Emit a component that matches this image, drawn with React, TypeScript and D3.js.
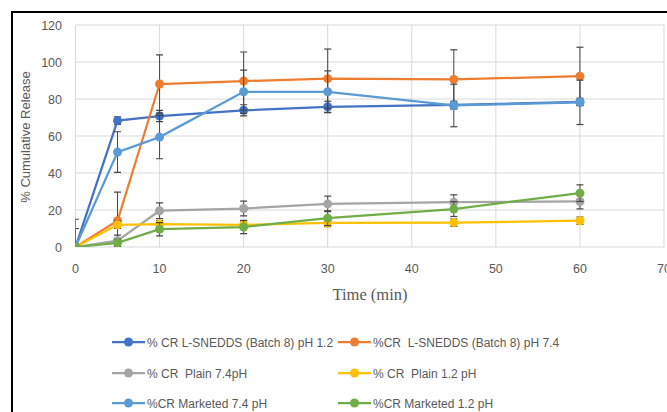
import * as d3 from 'd3';
import { useEffect, useRef } from 'react';

const times = [0, 5, 10, 20, 30, 45, 60];

const darkBlue = [0, 68.3, 70.8, 73.9, 75.8, 76.8, 78.4];
const darkBlueSd = [0, 2, 3, 3, 3, 2, 2];
const orange = [0, 14.2, 88.1, 89.7, 91.0, 90.6, 92.3];
const orangeSd = [15, 15.5, 15.7, 15.7, 16, 16, 15.7];
const gray = [0, 3.4, 19.6, 20.8, 23.3, 24.2, 24.6];
const graySd = [0, 3, 4.2, 4, 4.2, 4, 4];
const yellow = [0, 12, 12.4, 12, 13, 13.2, 14.2];
const yellowSd = [0, 2, 2, 2, 2, 2, 2];
const lightBlue = [0, 51.3, 59.4, 83.9, 83.9, 76.5, 78.2];
const lightBlueSd = [10, 11, 11.7, 11.7, 11.3, 11.5, 12];
const green = [0, 2.2, 9.6, 10.8, 15.6, 20.5, 29.1];
const greenSd = [0, 2, 3.6, 3.6, 4, 4, 4.5];

const seriesNames = [
  '% CR L-SNEDDS (Batch 8) pH 1.2',
  '%CR  L-SNEDDS (Batch 8) pH 7.4',
  '% CR  Plain 7.4pH',
  '% CR  Plain 1.2 pH',
  '%CR Marketed 7.4 pH',
  '%CR Marketed 1.2 pH',
];
const colors = ['#4472C4', '#ED7D31', '#A5A5A5', '#FFC000', '#5B9BD5', '#70AD47'];
const xTicks = [0, 10, 20, 30, 40, 50, 60, 70];
const yTicks = [0, 20, 40, 60, 80, 100, 120];

const SANS = 'Liberation Sans, Arial, sans-serif';

const App = () => {
  const ref = useRef<SVGSVGElement>(null);

  useEffect(() => {
    const svg = d3.select(ref.current);
    svg.selectAll('*').remove();

    const series = [
      { vals: darkBlue, sd: darkBlueSd },
      { vals: orange, sd: orangeSd },
      { vals: gray, sd: graySd },
      { vals: yellow, sd: yellowSd },
      { vals: lightBlue, sd: lightBlueSd },
      { vals: green, sd: greenSd },
    ];

    const x = d3.scaleLinear().domain([0, 70]).range([75.5, 664]);
    const y = d3.scaleLinear().domain([0, 120]).range([247, 25]);

    svg.append('rect').attr('width', 667).attr('height', 412).attr('fill', '#fff');

    svg.append('clipPath').attr('id', 'plotclip')
      .append('rect')
      .attr('x', x(0)).attr('y', 0)
      .attr('width', x(70) - x(0)).attr('height', y(0));

    // frame
    svg.append('path')
      .attr('d', 'M12,412 V12 H667')
      .attr('fill', 'none')
      .attr('stroke', '#000')
      .attr('stroke-width', 2);

    // gridlines
    svg.append('g').selectAll('line').data(yTicks).enter().append('line')
      .attr('x1', x(0)).attr('x2', x(70))
      .attr('y1', d => y(d)).attr('y2', d => y(d))
      .attr('stroke', '#d9d9d9').attr('stroke-width', 1);
    svg.append('g').selectAll('line').data(xTicks).enter().append('line')
      .attr('x1', d => x(d)).attr('x2', d => x(d))
      .attr('y1', y(0)).attr('y2', y(120))
      .attr('stroke', '#d9d9d9').attr('stroke-width', 1);

    // tick labels
    svg.append('g').selectAll('text').data(yTicks).enter().append('text')
      .attr('x', 62).attr('y', d => y(d) + 4.5)
      .attr('text-anchor', 'end')
      .attr('font-family', SANS)
      .attr('font-size', 12.5).attr('fill', '#595959')
      .text(d => d);
    svg.append('g').selectAll('text').data(xTicks).enter().append('text')
      .attr('x', d => x(d)).attr('y', 272.5)
      .attr('text-anchor', 'middle')
      .attr('font-family', SANS)
      .attr('font-size', 12.5).attr('fill', '#595959')
      .text(d => d);

    svg.append('text')
      .attr('x', 370).attr('y', 300)
      .attr('text-anchor', 'middle')
      .attr('font-family', 'Liberation Serif, Times New Roman, serif')
      .attr('font-size', 16.5).attr('fill', '#595959')
      .text('Time (min)');
    svg.append('text')
      .attr('transform', 'translate(30,137) rotate(-90)')
      .attr('text-anchor', 'middle')
      .attr('font-family', SANS)
      .attr('font-size', 13).attr('fill', '#595959')
      .text('% Cumulative Release');

    const line = d3.line<number>()
      .x((_, i) => x(times[i]))
      .y(d => y(d));

    const plot = svg.append('g').attr('clip-path', 'url(#plotclip)');

    series.forEach((s, k) => {
      const g = plot.append('g');
      // error bars
      s.sd.forEach((sd, i) => {
        if (!sd) return;
        const cx = x(times[i]);
        const top = y(Math.min(120, s.vals[i] + sd));
        const lo = s.vals[i] - sd;
        const bot = y(Math.max(0, lo));
        g.append('line').attr('x1', cx).attr('x2', cx).attr('y1', top).attr('y2', bot)
          .attr('stroke', '#444').attr('stroke-width', 1);
        g.append('line').attr('x1', cx - 3.5).attr('x2', cx + 3.5).attr('y1', top).attr('y2', top)
          .attr('stroke', '#444').attr('stroke-width', 1.2);
        if (lo >= 0) {
          g.append('line').attr('x1', cx - 3.5).attr('x2', cx + 3.5).attr('y1', bot).attr('y2', bot)
            .attr('stroke', '#444').attr('stroke-width', 1.2);
        }
      });
      g.append('path')
        .attr('d', line(s.vals))
        .attr('fill', 'none')
        .attr('stroke', colors[k])
        .attr('stroke-width', 2.25);
      g.selectAll('circle').data(s.vals).enter().append('circle')
        .attr('cx', (_, i) => x(times[i]))
        .attr('cy', d => y(d))
        .attr('r', 4.5)
        .attr('fill', colors[k]);
    });

    // legend
    const legendPos = [
      [112, 342], [338, 342],
      [112, 373], [338, 373],
      [112, 403], [338, 403],
    ];
    seriesNames.forEach((name, k) => {
      const [lx, ly] = legendPos[k];
      const g = svg.append('g');
      g.append('line').attr('x1', lx).attr('x2', lx + 33).attr('y1', ly).attr('y2', ly)
        .attr('stroke', colors[k]).attr('stroke-width', 2.25);
      g.append('circle').attr('cx', lx + 16.5).attr('cy', ly).attr('r', 4.5).attr('fill', colors[k]);
      g.append('text')
        .attr('x', lx + 35).attr('y', ly + 4.5)
        .attr('font-family', SANS)
        .attr('font-size', 12).attr('fill', '#595959')
        .style('white-space', 'pre')
        .text(name);
    });
  }, []);

  return (
    <svg
      ref={ref}
      width={667}
      height={412}
      style={{ position: 'absolute', left: 0, top: 0 }}
    />
  );
};

export default App;
